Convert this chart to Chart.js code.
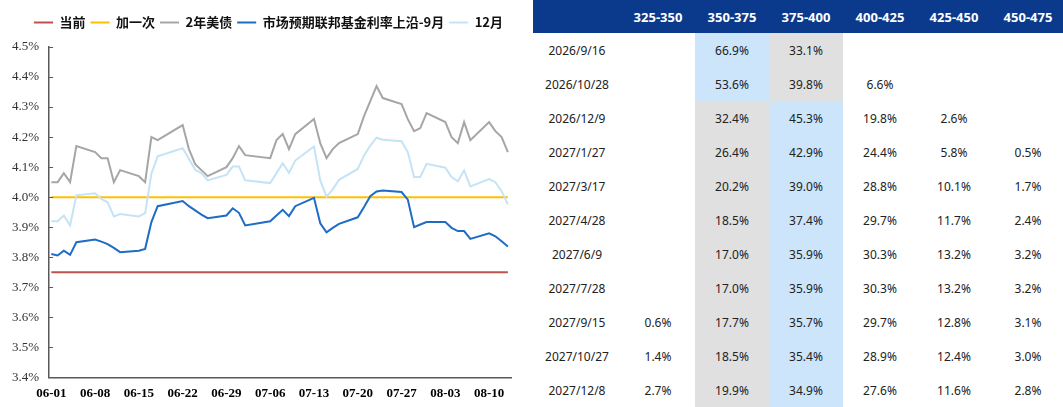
<!DOCTYPE html>
<html>
<head>
<meta charset="utf-8">
<script src="https://cdn.jsdelivr.net/npm/chart.js@4.4.1/dist/chart.umd.min.js"></script>
<style>
  body { margin:0; width:1063px; height:407px; background:#fff; position:relative; overflow:hidden; }
  #chartBox { position:absolute; left:0; top:0; width:525px; height:407px; }
  #tbl { position:absolute; left:533px; top:0; border-collapse:collapse; table-layout:fixed; width:532px;
         font-family:"Noto Sans", "Open Sans", sans-serif; font-size:12px; color:#222; }
  #tbl th { background:#0B3A8C; color:#fff; font-weight:bold; font-size:13px; height:33px; padding:0; text-align:center; }
  #tbl td { height:34px; padding:0; text-align:center; }
  #tbl td.hiMax { background:#CCE5FB; }
  #tbl td.hiMin { background:#E0E0E0; }
</style>
</head>
<body>
<div id="chartBox"><canvas id="c" width="525" height="407"></canvas></div>
<table id="tbl"></table>
<script>
/* chart data: trading days 2026 */
const dates = ['06-01','06-02','06-03','06-04','06-05','06-08','06-09','06-10','06-11','06-12',
  '06-15','06-16','06-17','06-18','06-22','06-23','06-24','06-25','06-26','06-29','06-30','07-01','07-02',
  '07-06','07-07','07-08','07-09','07-10','07-13','07-14','07-15','07-16','07-17','07-20','07-21','07-22','07-23','07-24',
  '07-27','07-28','07-29','07-30','07-31','08-03','08-04','08-05','08-06','08-07','08-10','08-11','08-12','08-13'];

const ust2y = [4.05,4.05,4.08,4.05,4.17, 4.15,4.13,4.13,4.05,4.09,
  4.07,4.05,4.20,4.19, 4.24,4.16,4.11,4.09,4.07, 4.10,4.13,4.17,4.14,
  4.13,4.19,4.21,4.16,4.21, 4.26,4.18,4.13,4.16,4.18, 4.21,4.27,4.32,4.37,4.33,
  4.31,4.26,4.22,4.23,4.28, 4.25,4.20,4.18,4.25,4.19, 4.25,4.22,4.20,4.15];

const fedSep = [3.811,3.806,3.822,3.808,3.850, 3.859,3.852,3.844,3.831,3.817,
  3.822,3.828,3.917,3.970, 3.987,3.970,3.956,3.942,3.930, 3.939,3.963,3.948,3.906,
  3.920,3.939,3.958,3.937,3.970, 3.998,3.913,3.883,3.898,3.911, 3.933,3.967,4.003,4.019,4.022,
  4.017,3.992,3.900,3.909,3.917, 3.917,3.898,3.887,3.887,3.861, 3.880,3.870,3.853,3.836];

const fedDec = [3.920,3.920,3.939,3.906,4.006, 4.013,3.994,3.983,3.936,3.944,
  3.936,3.947,4.078,4.136, 4.163,4.128,4.091,4.080,4.056, 4.074,4.102,4.102,4.056,
  4.047,4.080,4.113,4.081,4.122, 4.169,4.056,4.002,4.026,4.058, 4.094,4.139,4.172,4.198,4.191,
  4.186,4.150,4.067,4.067,4.111, 4.098,4.067,4.053,4.089,4.036, 4.060,4.050,4.020,3.976];

const currentUpper = 3.75;
const oneHike = 4.00;

const xTickLabels = ['06-01','06-08','06-15','06-22','06-29','07-06','07-13','07-20','07-27','08-03','08-10'];
const yTickValues = [3.4,3.5,3.6,3.7,3.8,3.9,4.0,4.1,4.2,4.3,4.4,4.5];

/* table data */
const meetings = ['2026/9/16','2026/10/28','2026/12/9','2027/1/27','2027/3/17','2027/4/28',
  '2027/6/9','2027/7/28','2027/9/15','2027/10/27','2027/12/8'];
const buckets = ['325-350','350-375','375-400','400-425','425-450','450-475'];
const probs = [
  [null, 66.9, 33.1, null, null, null],
  [null, 53.6, 39.8, 6.6, null, null],
  [null, 32.4, 45.3, 19.8, 2.6, null],
  [null, 26.4, 42.9, 24.4, 5.8, 0.5],
  [null, 20.2, 39.0, 28.8, 10.1, 1.7],
  [null, 18.5, 37.4, 29.7, 11.7, 2.4],
  [null, 17.0, 35.9, 30.3, 13.2, 3.2],
  [null, 17.0, 35.9, 30.3, 13.2, 3.2],
  [0.6, 17.7, 35.7, 29.7, 12.8, 3.1],
  [1.4, 18.5, 35.4, 28.9, 12.4, 3.0],
  [2.7, 19.9, 34.9, 27.6, 11.6, 2.8]
];
const focusCols = [1, 2]; // 350-375 / 375-400

function dayIndex(s) {
  const [m, d] = s.split('-').map(Number);
  return Math.round((Date.UTC(2026, m - 1, d) - Date.UTC(2026, 5, 1)) / 86400000);
}
function dayLabel(v) {
  const dt = new Date(Date.UTC(2026, 5, 1 + v));
  return String(dt.getUTCMonth() + 1).padStart(2, '0') + '-' + String(dt.getUTCDate()).padStart(2, '0');
}
function series(arr) { return dates.map((s, i) => ({ x: dayIndex(s), y: arr[i] })); }
function flat(v) {
  return [{ x: dayIndex(dates[0]), y: v }, { x: dayIndex(dates[dates.length - 1]), y: v }];
}

function buildTable() {
  const t = document.getElementById('tbl');
  let html = '<colgroup><col style="width:88px">' + buckets.map(() => '<col style="width:74px">').join('') + '</colgroup>';
  html += '<tr><th></th>' + buckets.map(b => `<th>${b}</th>`).join('') + '</tr>';
  probs.forEach((row, r) => {
    const a = row[focusCols[0]], b = row[focusCols[1]];
    html += `<tr><td>${meetings[r]}</td>`;
    row.forEach((v, c) => {
      let cls = '';
      if (focusCols.includes(c)) {
        const other = c === focusCols[0] ? b : a;
        cls = v >= other ? 'hiMax' : 'hiMin';
      }
      html += `<td class="${cls}">${v === null ? '' : v.toFixed(1) + '%'}</td>`;
    });
    html += '</tr>';
  });
  t.innerHTML = html;
}

// little tick marks on the inner side of the y axis
const innerTicks = {
  id: 'innerTicks',
  afterDraw(chart) {
    const ys = chart.scales.y, ctx = chart.ctx, left = chart.chartArea.left;
    ctx.save();
    ctx.strokeStyle = '#595959';
    ctx.lineWidth = 1;
    ys.ticks.forEach(t => {
      const y = Math.round(ys.getPixelForValue(t.value)) + 0.5;
      ctx.beginPath();
      ctx.moveTo(left, y);
      ctx.lineTo(left + 4, y);
      ctx.stroke();
    });
    ctx.restore();
  }
};

// extra room under the legend, and centre it over the plot
const legendGap = {
  id: 'legendGap',
  beforeInit(chart) {
    const fit = chart.legend.fit;
    chart.legend.fit = function () { fit.bind(chart.legend)(); this.height += 8; };
  },
  afterLayout(chart) {
    chart.legend.left += 12;
    chart.legend.right += 12;
  }
};

function makeChart() {
  const ctx = document.getElementById('c').getContext('2d');
  new Chart(ctx, {
    type: 'line',
    data: {
      datasets: [
        { label: '当前', data: flat(currentUpper), borderColor: '#C0504D', backgroundColor: '#C0504D', borderWidth: 1.8, order: 5 },
        { label: '加一次', data: flat(oneHike), borderColor: '#FFC000', backgroundColor: '#FFC000', borderWidth: 2, order: 4 },
        { label: '2年美债', data: series(ust2y), borderColor: '#A6A6A6', backgroundColor: '#A6A6A6', borderWidth: 2, order: 3 },
        { label: '市场预期联邦基金利率上沿-9月', data: series(fedSep), borderColor: '#1E6CC4', backgroundColor: '#1E6CC4', borderWidth: 2, order: 2 },
        { label: '12月', data: series(fedDec), borderColor: '#C5E3F7', backgroundColor: '#C5E3F7', borderWidth: 2, order: 1 }
      ]
    },
    options: {
      responsive: false,
      animation: false,
      devicePixelRatio: 1,
      elements: { point: { radius: 0 }, line: { tension: 0 } },
      layout: { padding: { left: 2, right: 14, top: 11, bottom: -2 } },
      plugins: {
        tooltip: { enabled: false },
        legend: {
          position: 'top',
          labels: {
            boxWidth: 19, boxHeight: 2, padding: 5, color: '#111',
            font: { family: '"Noto Sans CJK SC", sans-serif', size: 13, weight: 'bold' },
            sort: (a, b) => a.datasetIndex - b.datasetIndex,
            generateLabels(chart) {
              const items = Chart.defaults.plugins.legend.labels.generateLabels(chart);
              items.forEach(i => { i.lineWidth = 0; i.fillStyle = i.strokeStyle; });
              return items;
            }
          }
        }
      },
      scales: {
        x: {
          type: 'linear', min: -0.36, max: 73.5,
          grid: { display: false, drawTicks: false },
          border: { display: true, color: '#595959', width: 1.5 },
          afterBuildTicks: s => { s.ticks = xTickLabels.map(l => ({ value: dayIndex(l) })); },
          ticks: {
            padding: 8, color: '#000', maxRotation: 0, autoSkip: false,
            font: { family: '"Liberation Serif", "Times New Roman", serif', size: 13, weight: 'bold' },
            callback: v => dayLabel(v)
          }
        },
        y: {
          min: 3.4, max: 4.5,
          grid: { display: false, drawTicks: false },
          border: { display: true, color: '#595959', width: 1.5 },
          afterBuildTicks: s => { s.ticks = yTickValues.map(v => ({ value: v })); },
          ticks: {
            padding: 10, color: '#333',
            font: { family: '"Liberation Serif", "Times New Roman", serif', size: 13 },
            callback: v => v.toFixed(1) + '%'
          }
        }
      }
    },
    plugins: [innerTicks, legendGap]
  });
}

document.addEventListener('DOMContentLoaded', () => {
  buildTable();
  makeChart();
});
</script>
</body>
</html>
